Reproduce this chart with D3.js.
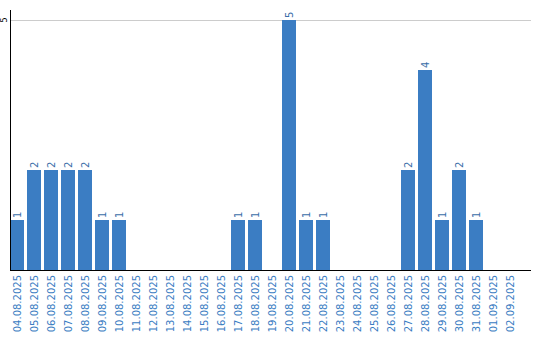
<!DOCTYPE html>
<html><head><meta charset="utf-8">
<script src="https://cdn.jsdelivr.net/npm/d3@7"></script>
<style>body{margin:0;background:#fff;}text{font-family:"DejaVu Sans",sans-serif;}</style>
</head><body><svg id="c" width="540" height="340"></svg>
<script>
const categories = ["04.08.2025","05.08.2025","06.08.2025","07.08.2025","08.08.2025","09.08.2025","10.08.2025","11.08.2025","12.08.2025","13.08.2025","14.08.2025","15.08.2025","16.08.2025","17.08.2025","18.08.2025","19.08.2025","20.08.2025","21.08.2025","22.08.2025","23.08.2025","24.08.2025","25.08.2025","26.08.2025","27.08.2025","28.08.2025","29.08.2025","30.08.2025","31.08.2025","01.09.2025","02.09.2025"];
const values = [1,2,2,2,2,1,1,0,0,0,0,0,0,1,1,0,5,1,1,0,0,0,0,2,4,1,2,1,0,0];
const yTicks = [5];

const svg = d3.select("#c");
const x = d3.scaleBand().domain(categories).range([10, 517]).paddingInner(3/17).paddingOuter(0);
const y = d3.scaleLinear().domain([0,5]).range([270,20]);
const barColor = "#3b7dc3";
const data = categories.map((c,i)=>({c, v: values[i]}));

svg.selectAll("line.grid").data(yTicks).enter().append("line")
  .attr("x1",10).attr("x2",531).attr("y1",d=>y(d)).attr("y2",d=>y(d))
  .attr("stroke","#cccccc").attr("stroke-width",1).attr("shape-rendering","crispEdges");

svg.selectAll("rect.bar").data(data).enter().append("rect")
  .attr("x",d=>x(d.c)).attr("width",x.bandwidth())
  .attr("y",d=>y(d.v)).attr("height",d=>y(0)-y(d.v)).attr("fill",barColor)
  .attr("shape-rendering","crispEdges");

svg.selectAll("text.val").data(data.filter(d=>d.v>0)).enter().append("text")
  .attr("transform",d=>`translate(${x(d.c)+x.bandwidth()/2+3.5},${y(d.v)-2}) rotate(-90)`)
  .attr("font-size",10).attr("fill","#3a6ea8").text(d=>d.v);

svg.selectAll("text.cat").data(categories).enter().append("text")
  .attr("transform",c=>`translate(${x(c)+x.bandwidth()/2+3.5},275) rotate(-90)`)
  .attr("text-anchor","end").attr("font-size",10).attr("fill","#3a7cc2").text(c=>c);

svg.selectAll("text.ytick").data(yTicks).enter().append("text")
  .attr("transform",t=>`translate(7,${y(t)}) rotate(-90)`)
  .attr("text-anchor","middle").attr("font-size",8).attr("fill","#000").text(t=>t);

svg.append("line").attr("x1",10.5).attr("x2",10.5).attr("y1",10).attr("y2",270)
  .attr("stroke","#000").attr("stroke-width",1);
svg.append("line").attr("x1",10).attr("x2",531).attr("y1",270.5).attr("y2",270.5)
  .attr("stroke","#000").attr("stroke-width",1);
</script></body></html>
